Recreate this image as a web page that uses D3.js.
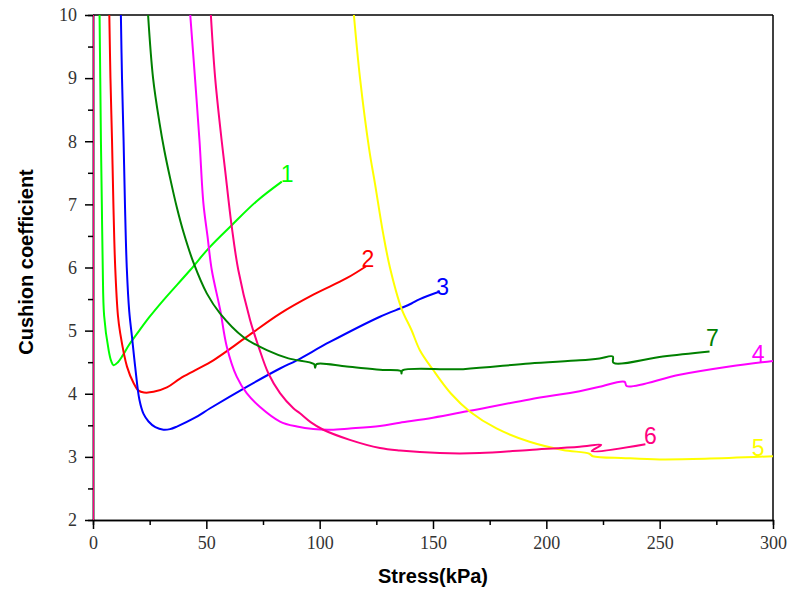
<!DOCTYPE html>
<meta charset="utf-8">
<style>

body {
  margin: 0;
  background: #fff;
}

svg {
  display: block;
  background: #fff;
}

.axis path,
.axis line,
.frame {
  stroke: #000;
  stroke-width: 1.5px;
}

.axis text {
  font: 18px "Liberation Serif", "DejaVu Serif", serif;
  fill: #333;
}

.title {
  font: bold 20px "Liberation Sans", Arial, sans-serif;
  fill: #000;
}

.curve {
  fill: none;
  stroke-width: 2px;
  stroke-linejoin: round;
}

.tag {
  font: 23px "Liberation Sans", Arial, sans-serif;
  text-anchor: middle;
}

</style>
<body>
<script src="https://cdn.jsdelivr.net/npm/d3@7"></script>
<script>

// stress (kPa), cushion coefficient
var curve1 = [[2.9,10],[3.2,9],[3.5,8],[3.9,7],[4.3,6],[4.9,5.24],[6.9,4.69],[8,4.52],[9.1,4.45],[11,4.5],[13,4.6],[16,4.78],[20,4.98],[25,5.22],[31,5.48],[42.9,5.96],[50.9,6.3],[61.2,6.67],[72.2,7.05],[83.3,7.36]];
var curve2 = [[7.2,10],[7.7,9],[8.4,8],[9,7],[9.8,6],[11,5.24],[12,4.96],[15,4.43],[17.9,4.17],[20.1,4.05],[22.5,4.02],[26.7,4.03],[32.6,4.1],[38.4,4.24],[45,4.37],[53.1,4.53],[67.8,4.9],[82.5,5.27],[97.2,5.57],[111.9,5.83],[120.5,6.02]];
var curve3 = [[12.3,10],[12.8,9],[13.5,8],[14.1,7],[14.9,6],[16,5.3],[17.2,4.9],[18.6,4.43],[20.5,3.9],[22.3,3.68],[24.5,3.56],[27.5,3.47],[31.1,3.43],[34,3.44],[37,3.48],[45,3.62],[51.7,3.77],[67.8,4.11],[82.5,4.4],[89.9,4.53],[104.5,4.82],[126.6,5.22],[136.8,5.37],[140.5,5.43],[144.2,5.5],[153,5.62]];
var curve4 = [[42.9,10],[45,9],[47,8],[48.7,7.02],[50.5,6.5],[52.4,5.96],[56.1,5.33],[59,4.75],[63.4,4.27],[67.8,4.01],[73.7,3.79],[82.5,3.56],[90,3.48],[97.2,3.44],[105,3.43],[113.3,3.45],[126.6,3.49],[135.4,3.54],[150,3.62],[166.2,3.73],[192.6,3.91],[214.7,4.04],[223.5,4.11],[234.5,4.19],[235.5,4.12],[258.8,4.3],[280.8,4.43],[300,4.52]];
var curve5 = [[115.1,10],[117.8,9],[121.9,7.86],[124.4,7.33],[128,6.54],[131,6.0],[136.1,5.35],[140.5,5.01],[144.2,4.69],[150,4.38],[158,4.0],[166.2,3.72],[178,3.45],[192.6,3.24],[207.3,3.11],[219,3.05],[220.5,3.01],[235,2.98],[250,2.96],[270,2.97],[300,3.01]];
var curve6 = [[52,10],[53.9,9],[56.8,8],[58.3,7.54],[61.2,6.65],[64.1,5.96],[69.3,5.17],[73,4.75],[77.4,4.32],[82.5,4.01],[88.4,3.77],[91.3,3.69],[96,3.55],[101.6,3.43],[113.3,3.27],[126.6,3.14],[135.4,3.1],[153,3.06],[170.6,3.06],[192.6,3.11],[214.7,3.16],[224.2,3.19],[220,3.09],[243.7,3.2]];
var curve6axis = [[0,2],[0,10]];
var curve7 = [[24.3,10],[26.5,9],[29.3,8.3],[31.5,7.85],[34,7.42],[37,6.95],[40,6.55],[44.3,6.08],[50.2,5.59],[56.1,5.27],[66.3,4.9],[76.7,4.69],[86.2,4.56],[97.5,4.47],[98,4.41],[98.6,4.47],[111.9,4.43],[126.6,4.38],[135.8,4.36],[136.1,4.32],[136.5,4.37],[163.3,4.39],[192.6,4.48],[214.7,4.53],[223.5,4.56],[229.3,4.59],[229.6,4.49],[251.4,4.59],[272,4.67]];

var curveNames = ["1", "2", "3", "4", "5", "6", "7"];
var curveData = [curve1, curve2, curve3, curve4, curve5, curve6, curve7];
// where each number sits (stress, coefficient at baseline)
var tagPos = [[85.6,7.35],[121.3,6.01],[154.3,5.56],[293.5,4.5],[293.5,3.01],[245.9,3.2],[273.3,4.76]];

var xTicks = [0, 50, 100, 150, 200, 250, 300];
var xMinor = [25, 75, 125, 175, 225, 275];
var yTicks = [2, 3, 4, 5, 6, 7, 8, 9, 10];
var yMinor = [2.5, 3.5, 4.5, 5.5, 6.5, 7.5, 8.5, 9.5];

var colors = ["#00ff00", "#ff0000", "#0000ff", "#ff00ff", "#ffff00", "#ff0080", "#008000"];

var width = 789,
    height = 590,
    mLeft = 93,
    mRight = 773,
    mTop = 15,
    mBottom = 520;

var x = d3.scaleLinear().domain([0, 300]).range([mLeft, mRight]);
var y = d3.scaleLinear().domain([2, 10]).range([mBottom, mTop]);

var svg = d3.select("body").append("svg")
    .attr("width", width)
    .attr("height", height);

svg.append("defs").append("clipPath")
    .attr("id", "plot")
  .append("rect")
    .attr("x", mLeft)
    .attr("y", mTop)
    .attr("width", mRight - mLeft)
    .attr("height", mBottom - mTop);

// frame top and right
svg.append("line").attr("class", "frame")
    .attr("x1", mLeft).attr("x2", mRight).attr("y1", mTop).attr("y2", mTop);
svg.append("line").attr("class", "frame")
    .attr("x1", mRight).attr("x2", mRight).attr("y1", mTop).attr("y2", mBottom);

// minor ticks first
svg.append("g")
    .attr("class", "axis")
    .attr("transform", "translate(0," + mBottom + ")")
    .call(d3.axisBottom(x).tickValues(xMinor).tickSize(5).tickFormat(""));
svg.append("g")
    .attr("class", "axis")
    .attr("transform", "translate(" + mLeft + ",0)")
    .call(d3.axisLeft(y).tickValues(yMinor).tickSize(5).tickFormat(""));

svg.append("g")
    .attr("class", "axis")
    .attr("transform", "translate(0," + mBottom + ")")
    .call(d3.axisBottom(x).tickValues(xTicks).tickSize(9).tickPadding(7).tickSizeOuter(0));

svg.append("g")
    .attr("class", "axis")
    .attr("transform", "translate(" + mLeft + ",0)")
    .call(d3.axisLeft(y).tickValues(yTicks).tickSize(8).tickPadding(8).tickSizeOuter(0));

svg.append("text")
    .attr("class", "title")
    .attr("x", 433)
    .attr("y", 583)
    .attr("text-anchor", "middle")
    .text("Stress(kPa)");

svg.append("text")
    .attr("class", "title")
    .attr("transform", "translate(33,262) rotate(-90)")
    .attr("text-anchor", "middle")
    .text("Cushion coefficient");

var line = d3.line()
    .x(function(d) { return x(d[0]); })
    .y(function(d) { return y(d[1]); })
    .curve(d3.curveCatmullRom.alpha(0.5));

var plot = svg.append("g").attr("clip-path", "url(#plot)");

plot.append("path")
    .attr("class", "curve")
    .attr("d", line(curve6axis))
    .style("stroke", colors[5]);

plot.selectAll(".series")
    .data(curveData)
  .enter().append("path")
    .attr("class", "curve series")
    .attr("d", function(d) { return line(d); })
    .style("stroke", function(d, i) { return colors[i]; });

svg.selectAll(".tag")
    .data(curveNames)
  .enter().append("text")
    .attr("class", "tag")
    .attr("x", function(d, i) { return x(tagPos[i][0]); })
    .attr("y", function(d, i) { return y(tagPos[i][1]); })
    .style("fill", function(d, i) { return colors[i]; })
    .text(function(d) { return d; });

</script>
